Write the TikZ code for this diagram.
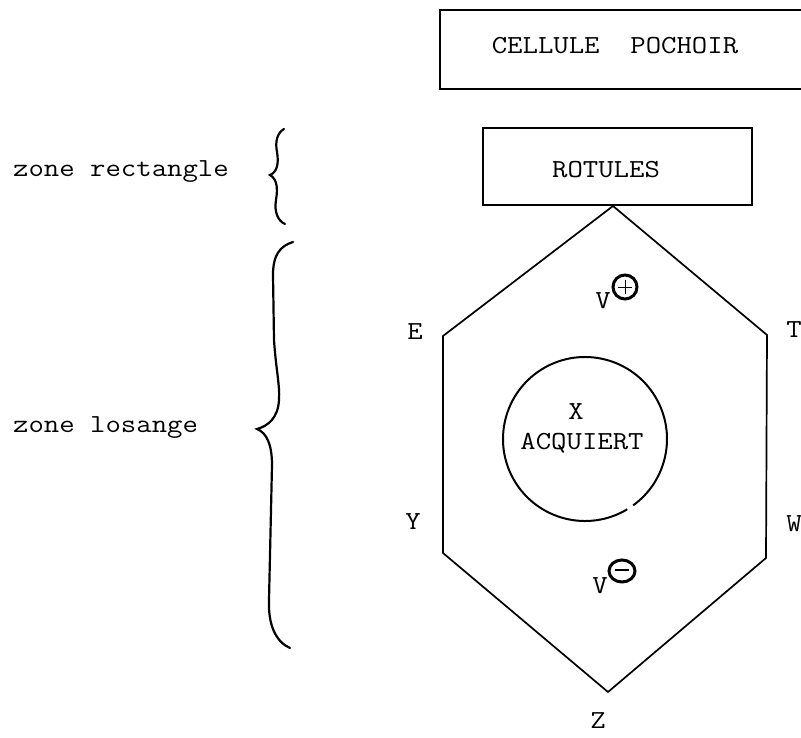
\documentclass[tikz,border=0pt]{standalone}
\usepackage{fontspec}
\usepackage{graphicx}
\newcommand\tw[1]{\scalebox{1.15}[1]{#1}}
\tikzset{
  lbl/.style={font=\ttfamily\fontsize{26}{30}\selectfont, inner sep=0pt},
  boxline/.style={line width=1.5pt, line join=miter},
  hexline/.style={line width=1.7pt, line join=miter},
  braceline/.style={line width=2.2pt, line cap=round},
  signring/.style={line width=3pt},
}
\begin{document}
\begin{tikzpicture}[x=1pt,y=-1pt]
\useasboundingbox (0,0) rectangle (801,738);
% boxes
\draw[boxline] (801,10) -- (440,10) -- (440,89) -- (801,89);
\node[lbl] (cellule) at (615,46) {\tw{CELLULE\ \ POCHOIR}};
\draw[boxline] (483,128) rectangle (752,205);
\node[lbl] (rotules) at (606,170) {\tw{ROTULES}};
% hexagon
\coordinate (top) at (613,206);
\coordinate (ve) at (443,336);
\coordinate (vy) at (443,553);
\coordinate (vz) at (608,692);
\coordinate (vw) at (766,558);
\coordinate (vt) at (767,335);
\draw[hexline] (top) -- (ve) -- (vy) -- (vz) -- (vw) -- (vt) -- cycle;
% vertex labels
\node[lbl] (E) at (415,332) {\tw{E}};
\node[lbl] (T) at (794,330) {\tw{T}};
\node[lbl] (Y) at (413,522) {\tw{Y}};
\node[lbl] (W) at (794,524) {\tw{W}};
\node[lbl] (Z) at (598,721) {\tw{Z}};
% circle with a small break at the lower right (y axis points down)
\coordinate (cc) at (585,439);
\draw[line width=2pt] ([shift={(59:82)}]cc) arc[start angle=59, end angle=414, radius=82];
\node[lbl] (X) at (576,412) {\tw{X}};
\node[lbl] (acq) at (582,443) {\tw{ACQUIERT}};
% V plus / minus
\node[lbl] (vplus) at (603,301) {\tw{V}};
\draw[signring] (625,287) ellipse[x radius=12, y radius=12];
\draw[line width=0.8pt] (618,287) -- (632,287) (625,280) -- (625,294);
\node[lbl] (vminus) at (600,586) {\tw{V}};
\draw[signring] (622,571) ellipse[x radius=13, y radius=11];
\draw[line width=2pt] (615,570) -- (629,570);
% zone labels
\node[lbl, anchor=west] (zr) at (13,172) {\tw{zone rectangle}};
\node[lbl, anchor=west] (zl) at (13,428) {\tw{zone losange}};
% braces
\draw[braceline] (284,129) .. controls (277,133) and (275,142) .. (277,152)
  .. controls (279,164) and (277,172) .. (270,175)
  .. controls (277,179) and (278,188) .. (276,200)
  .. controls (274,212) and (278,221) .. (285,224);
\draw[braceline] (293,242) .. controls (280,246) and (273,255) .. (273,275)
  -- (274,340) .. controls (276,370) and (280,385) .. (279,400)
  .. controls (278,418) and (268,426) .. (257,429)
  .. controls (267,433) and (272,445) .. (272,465)
  -- (269,600) .. controls (268,625) and (276,642) .. (290,648);
\end{tikzpicture}
\end{document}
